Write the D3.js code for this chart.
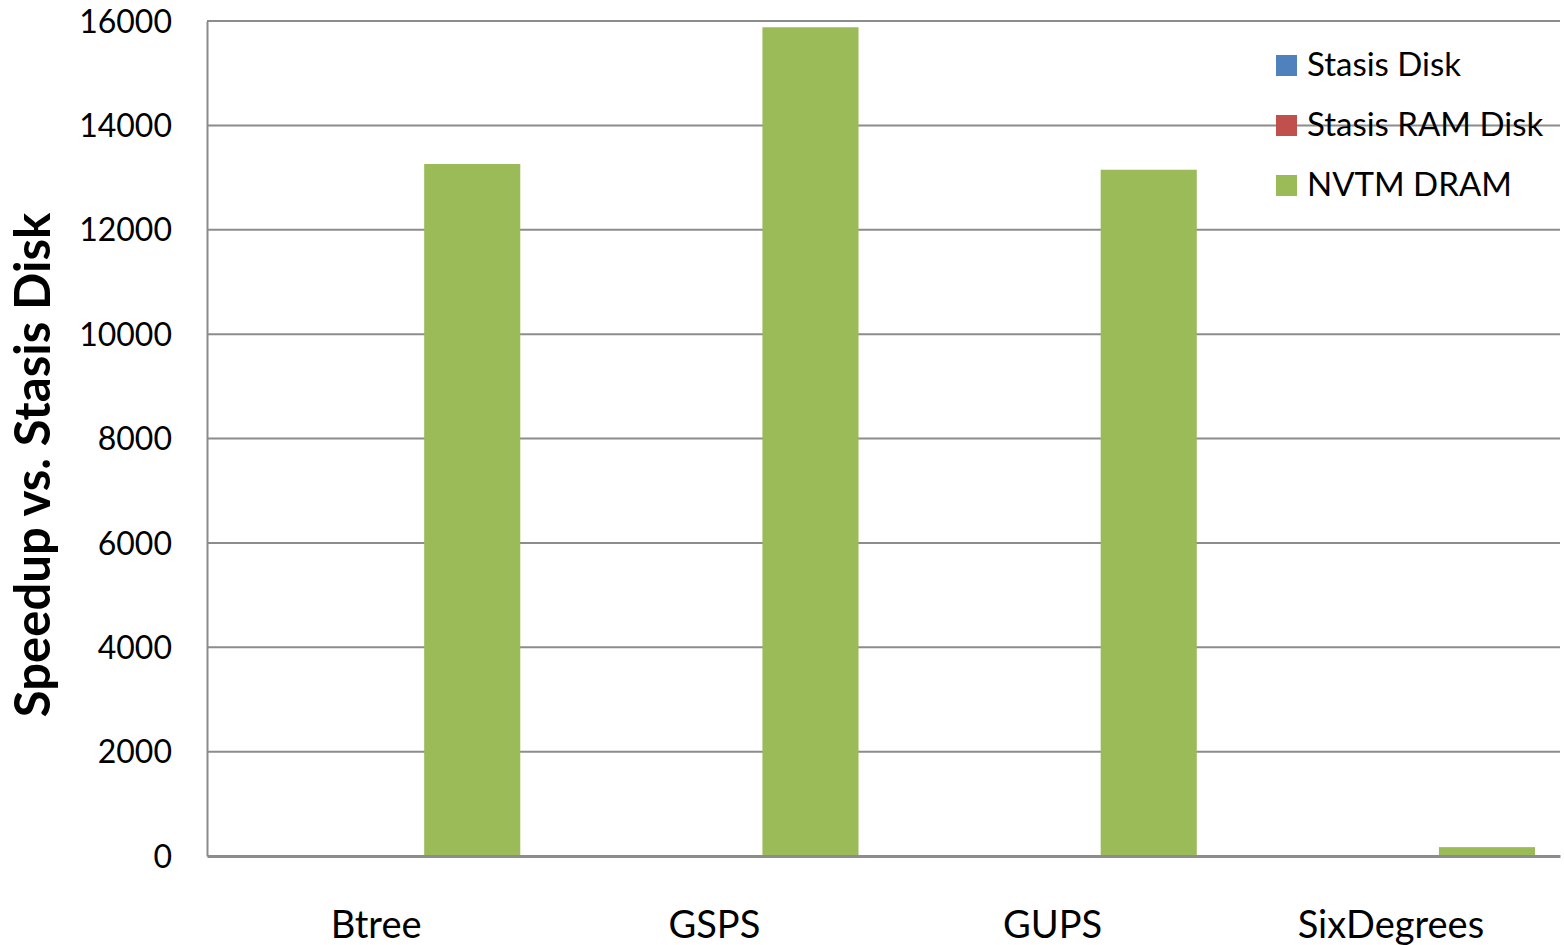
<!DOCTYPE html>
<html>
<head>
<meta charset="utf-8">
<script src="https://cdn.jsdelivr.net/npm/d3@7/dist/d3.min.js"></script>
<style>
  html, body { margin: 0; padding: 0; background: #fff; }
  svg { display: block; font-family: Lato, "Open Sans", sans-serif; }
</style>
</head>
<body>
<svg id="chart" width="1564" height="945"></svg>
<script>
// Workloads and per-configuration speedups (relative to Stasis Disk)
const categories = ["Btree", "GSPS", "GUPS", "SixDegrees"];
const seriesNames = ["Stasis Disk", "Stasis RAM Disk", "NVTM DRAM"];
const stasisDisk = [1, 1, 1, 1];
const stasisRamDisk = [15, 4, 3, 2];
const nvtmDram = [13260, 15880, 13150, 170];
const yTicks = [0, 2000, 4000, 6000, 8000, 10000, 12000, 14000, 16000];
const colors = ["#4F81BD", "#C0504D", "#9BBB59"];

const seriesValues = [stasisDisk, stasisRamDisk, nvtmDram];

const svg = d3.select("#chart");
const margin = { left: 207, right: 4, top: 21, bottom: 89 };
const W = 1564, H = 945;
const innerW = W - margin.left - margin.right;
const innerH = H - margin.top - margin.bottom;

const g = svg.append("g").attr("transform", `translate(${margin.left},${margin.top})`);

const x = d3.scaleBand().domain(categories).range([0, innerW]).paddingInner(0).paddingOuter(0);
const xInner = d3.scaleBand().domain(seriesNames).range([0, x.bandwidth()]).paddingInner(0).paddingOuter(0.26);
const y = d3.scaleLinear().domain([0, 16000]).range([innerH, 0]);

// Horizontal gridlines
g.append("g")
  .selectAll("line")
  .data(yTicks.filter(t => t > 0))
  .join("line")
  .attr("x1", 0).attr("x2", innerW)
  .attr("y1", d => y(d)).attr("y2", d => y(d))
  .attr("stroke", "#8c8c8c").attr("stroke-width", 2);

// Bars
const groups = g.append("g")
  .selectAll("g")
  .data(seriesNames)
  .join("g")
  .attr("fill", (d, i) => colors[i]);

groups.selectAll("rect")
  .data((s, si) => categories.map((c, ci) => ({ c, s, v: seriesValues[si][ci] })))
  .join("rect")
  .attr("x", d => x(d.c) + xInner(d.s))
  .attr("width", xInner.bandwidth())
  .attr("y", d => y(d.v))
  .attr("height", d => y(0) - y(d.v));

// Y axis
const yAxis = g.append("g")
  .call(d3.axisLeft(y).tickValues(yTicks).tickSize(0).tickPadding(35).tickFormat(d3.format("d")));
yAxis.select(".domain").attr("stroke", "#8c8c8c").attr("stroke-width", 2);
yAxis.selectAll("text").attr("font-size", 32).attr("fill", "#000").attr("font-family", "Lato, sans-serif").attr("dy", "0.35em");

// X axis
const xAxis = g.append("g")
  .attr("transform", `translate(0,${innerH})`)
  .call(d3.axisBottom(x).tickSize(0));
xAxis.select(".domain").attr("stroke", "#8c8c8c").attr("stroke-width", 3);
xAxis.selectAll("text")
  .attr("y", 82).attr("dy", 0)
  .attr("font-size", 38).attr("fill", "#000").attr("font-family", "Lato, sans-serif");

// Y axis title
svg.append("text")
  .attr("transform", `translate(50,${465}) rotate(-90)`)
  .attr("text-anchor", "middle")
  .attr("font-size", 49)
  .attr("font-weight", "bold")
  .attr("fill", "#000")
  .text("Speedup vs. Stasis Disk");

// Legend
const legend = svg.append("g").attr("transform", "translate(1276,55)");
const item = legend.selectAll("g")
  .data(seriesNames)
  .join("g")
  .attr("transform", (d, i) => `translate(0,${i * 60})`);
item.append("rect")
  .attr("width", 21).attr("height", 21)
  .attr("fill", (d, i) => colors[i]);
item.append("text")
  .attr("x", 31).attr("y", 21)
  .attr("font-size", 33)
  .attr("fill", "#000")
  .text(d => d);
</script>
</body>
</html>
